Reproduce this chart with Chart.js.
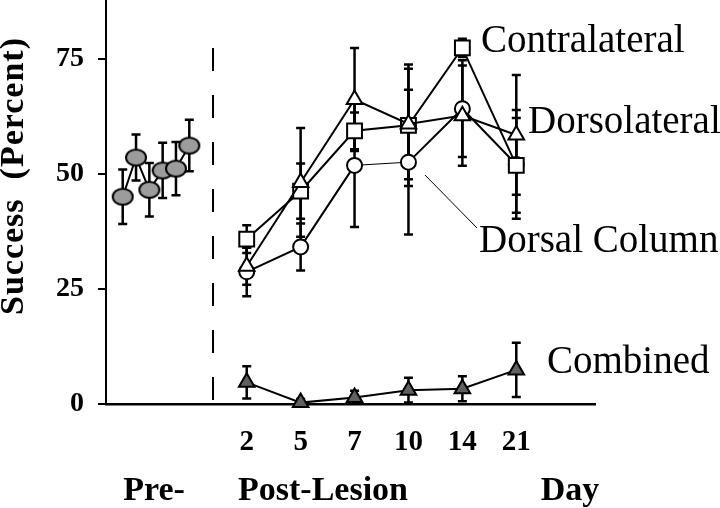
<!DOCTYPE html>
<html lang="en">
<head>
    <meta charset="UTF-8">
    <title>Success by Day</title>
    <script src="https://cdn.jsdelivr.net/npm/chart.js"></script>
    <style>
        body { margin: 0; background: #fff; }
        canvas { display: block; }
    </style>
</head>
<body>
<canvas id="chart" width="720" height="508"></canvas>
<script>
    // pre-lesion sessions
    const preMeans = [45.0, 53.5, 46.5, 50.7, 51.1, 56.1];
    const preErr = [5.9, 5.0, 5.8, 6.0, 5.8, 5.6];

    // post-lesion days
    const dayLabels = ['2', '5', '7', '10', '14', '21'];
    const contralateral = [35.8, 46.2, 59.3, 60.5, 77.3, 51.8];
    const contralateralErr = [3.0, 6.0, 4.0, 13.2, 2.0, 10.3];
    const dorsolateral = [29.9, 48.1, 66.1, 60.8, 62.6, 58.4];
    const dorsolateralErr = [4.0, 11.8, 11.2, 12.0, 10.9, 13.0];
    const dorsalColumn = [28.7, 34.1, 51.8, 52.5, 64.1, 52.0];
    const dorsalColumnErr = [5.3, 5.1, 13.4, 15.7, 10.5, 11.8];
    const combined = [4.7, 0.3, 1.4, 3.0, 3.3, 7.4];
    const combinedErr = [3.5, 0.8, 1.5, 2.7, 2.7, 5.9];

    const yTicks = [0, 25, 50, 75];

    // layout of the x axis (post days sit on slots 0..5)
    const preStart = -2.30;
    const preStep = 0.247;
    const dividerX = -0.625;
    const dividerTop = 77.3;

    const serif = '"Liberation Serif", "Times New Roman", serif';

    // grey ellipse marker for the pre-lesion points
    const ellipse = document.createElement('canvas');
    ellipse.width = 24;
    ellipse.height = 20;
    const ec = ellipse.getContext('2d');
    ec.beginPath();
    ec.ellipse(12, 10, 10, 8, 0, 0, Math.PI * 2);
    ec.fillStyle = '#9c9c9c';
    ec.fill();
    ec.lineWidth = 2;
    ec.strokeStyle = '#000';
    ec.stroke();

    const post = arr => arr.map((v, i) => ({ x: i, y: v }));

    const errorBars = {
        id: 'errorBars',
        beforeDatasetsDraw(chart) {
            const { ctx, scales: { x, y }, chartArea } = chart;
            ctx.save();
            // dashed pre/post divider
            ctx.strokeStyle = '#000';
            ctx.lineWidth = 2;
            ctx.setLineDash([23, 24]);
            ctx.beginPath();
            ctx.moveTo(x.getPixelForValue(dividerX), y.getPixelForValue(dividerTop));
            ctx.lineTo(x.getPixelForValue(dividerX), chartArea.bottom);
            ctx.stroke();
            ctx.setLineDash([]);

            ctx.lineWidth = 2.5;
            chart.data.datasets.forEach(ds => {
                if (!ds.errors) return;
                ds.data.forEach((p, i) => {
                    const e = ds.errors[i];
                    const px = x.getPixelForValue(p.x);
                    const top = y.getPixelForValue(p.y + e);
                    const bot = y.getPixelForValue(Math.max(p.y - e, 0));
                    ctx.beginPath();
                    ctx.moveTo(px, top);
                    ctx.lineTo(px, bot);
                    ctx.moveTo(px - 4.5, top);
                    ctx.lineTo(px + 4.5, top);
                    if (p.y - e > 0) {
                        ctx.moveTo(px - 4.5, bot);
                        ctx.lineTo(px + 4.5, bot);
                    }
                    ctx.stroke();
                });
            });
            ctx.restore();
        },
        afterDraw(chart) {
            const { ctx } = chart;
            ctx.save();
            ctx.fillStyle = '#000';
            ctx.textBaseline = 'alphabetic';

            // series labels
            ctx.font = '39px ' + serif;
            ctx.textAlign = 'left';
            ctx.fillText('Contralateral', 481, 52);
            ctx.fillText('Dorsolateral', 528, 133);
            ctx.fillText('Dorsal Column', 479, 252);
            ctx.fillText('Combined', 547, 373);

            // leader line to Dorsal Column
            ctx.lineWidth = 1;
            ctx.beginPath();
            ctx.moveTo(425, 175);
            ctx.lineTo(477, 228);
            ctx.stroke();

            // group labels under the axis
            ctx.font = 'bold 34px ' + serif;
            ctx.textAlign = 'center';
            ctx.fillText('Pre-', 154, 500);
            ctx.fillText('Post-Lesion', 323, 500);
            ctx.fillText('Day', 570, 500);

            // y title
            ctx.translate(14, 176);
            ctx.rotate(-Math.PI / 2);
            ctx.font = 'bold 34px ' + serif;
            ctx.textBaseline = 'middle';
            if ('letterSpacing' in ctx) ctx.letterSpacing = '1px';
            ctx.fillText('Success  (Percent)', 0, 0);
            ctx.restore();
        }
    };

    const marker = {
        borderColor: '#000',
        borderWidth: 2,
        pointBorderWidth: 2,
        pointBorderColor: '#000',
        clip: false
    };

    new Chart(document.getElementById('chart'), {
        type: 'line',
        data: {
            datasets: [
                {
                    ...marker,
                    label: 'Dorsolateral',
                    data: post(dorsolateral),
                    errors: dorsolateralErr,
                    pointStyle: 'triangle',
                    pointRadius: 9,
                    pointBackgroundColor: '#fff'
                },
                {
                    ...marker,
                    label: 'Contralateral',
                    data: post(contralateral),
                    errors: contralateralErr,
                    pointStyle: 'rect',
                    pointRadius: 10.5,
                    pointBackgroundColor: '#fff'
                },
                {
                    ...marker,
                    label: 'Dorsal Column',
                    data: post(dorsalColumn),
                    errors: dorsalColumnErr,
                    pointStyle: 'circle',
                    pointRadius: 7.5,
                    pointBackgroundColor: '#fff',
                    segment: { borderWidth: c => c.p0DataIndex === 2 ? 1 : 2 }
                },
                {
                    ...marker,
                    label: 'Combined',
                    data: post(combined),
                    errors: combinedErr,
                    pointStyle: 'triangle',
                    pointRadius: 9,
                    pointBackgroundColor: '#606060'
                },
                {
                    ...marker,
                    label: 'Pre',
                    data: preMeans.map((v, i) => ({ x: preStart + i * preStep, y: v })),
                    errors: preErr,
                    pointStyle: ellipse
                }
            ]
        },
        options: {
            responsive: false,
            animation: false,
            devicePixelRatio: 1,
            layout: { autoPadding: false, padding: { top: 0, right: 125, left: 0, bottom: 0 } },
            plugins: {
                legend: { display: false },
                tooltip: { enabled: false }
            },
            scales: {
                x: {
                    type: 'linear',
                    min: -2.61,
                    max: 6.46,
                    afterFit: s => {
                        s.height = 104;
                        s.paddingLeft = 0;
                        s.paddingRight = 0;
                    },
                    afterBuildTicks: s => { s.ticks = dayLabels.map((_, i) => ({ value: i })); },
                    grid: { display: false },
                    border: { display: true, color: '#000', width: 2.5 },
                    ticks: {
                        autoSkip: false,
                        maxRotation: 0,
                        padding: 13,
                        color: '#000',
                        font: { family: serif, size: 29, weight: 'bold' },
                        callback: v => dayLabels[v]
                    }
                },
                y: {
                    min: 0,
                    max: 87.7,
                    afterFit: s => {
                        s.width = 106;
                        s.paddingTop = 0;
                        s.paddingBottom = 0;
                    },
                    afterBuildTicks: s => { s.ticks = yTicks.map(v => ({ value: v })); },
                    grid: {
                        display: true,
                        drawOnChartArea: false,
                        drawTicks: true,
                        tickLength: 8,
                        color: '#000',
                        lineWidth: 2
                    },
                    border: { display: true, color: '#000', width: 2 },
                    ticks: {
                        padding: 14,
                        color: '#000',
                        font: { family: serif, size: 28, weight: 'bold' }
                    }
                }
            }
        },
        plugins: [errorBars]
    });
</script>
</body>
</html>
